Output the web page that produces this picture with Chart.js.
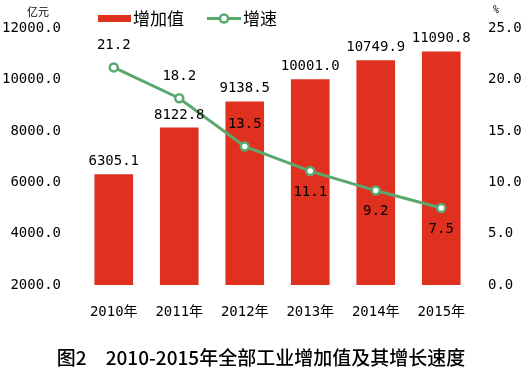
<!DOCTYPE html>
<html>
<head>
<meta charset="utf-8">
<script src="https://cdn.jsdelivr.net/npm/chart.js@4/dist/chart.umd.min.js"></script>
<style>
    html, body { margin: 0; padding: 0; background: #fff; }
    #wrap { width: 527px; height: 376px; }
</style>
</head>
<body>
<div id="wrap"><canvas id="chart" width="527" height="376"></canvas></div>
<script>
// data
const years = ['2010年', '2011年', '2012年', '2013年', '2014年', '2015年'];
const addedValue = [6305.1, 8122.8, 9138.5, 10001.0, 10749.9, 11090.8];   // 亿元
const growthRate = [21.2, 18.2, 13.5, 11.1, 9.2, 7.5];                    // %
const leftTicks = [2000, 4000, 6000, 8000, 10000, 12000];
const rightTicks = [0, 5, 10, 15, 20, 25];

// where each growth label sits relative to its point
const rateLabelSide = ['above', 'above', 'above', 'below', 'below', 'below'];

const RED = '#e0301f';
const GREEN = '#5aa86e';
const NUM_FONT = "'DejaVu Sans Mono', 'Noto Sans CJK SC', monospace";
const CJK_FONT = "'Noto Sans CJK SC', sans-serif";

// value labels, legend, units and caption
const decorPlugin = {
    id: 'decor',
    afterDatasetsDraw(chart) {
        const ctx = chart.ctx;
        ctx.save();
        ctx.fillStyle = '#000';
        ctx.font = '14px ' + NUM_FONT;
        ctx.textAlign = 'center';
        ctx.textBaseline = 'middle';

        chart.getDatasetMeta(1).data.forEach((bar, i) => {
            ctx.fillText(addedValue[i].toFixed(1), bar.x, bar.y - 13);
        });
        chart.getDatasetMeta(0).data.forEach((pt, i) => {
            const dy = rateLabelSide[i] === 'above' ? -22 : 21;
            ctx.fillText(growthRate[i].toFixed(1), pt.x, pt.y + dy);
        });
        ctx.restore();
    },
    afterDraw(chart) {
        const ctx = chart.ctx;
        ctx.save();
        ctx.textBaseline = 'middle';

        // legend
        ctx.fillStyle = RED;
        ctx.fillRect(98, 15, 33, 7);
        ctx.fillStyle = '#000';
        ctx.font = '17px ' + CJK_FONT;
        ctx.textAlign = 'left';
        ctx.fillText('增加值', 133, 19);

        ctx.strokeStyle = GREEN;
        ctx.lineWidth = 3;
        ctx.beginPath();
        ctx.moveTo(207, 18.5);
        ctx.lineTo(241, 18.5);
        ctx.stroke();
        ctx.beginPath();
        ctx.arc(224, 18.5, 4, 0, Math.PI * 2);
        ctx.fillStyle = '#fff';
        ctx.fill();
        ctx.lineWidth = 2.5;
        ctx.stroke();
        ctx.fillStyle = '#000';
        ctx.fillText('增速', 243, 19);

        // units
        ctx.font = '11px ' + CJK_FONT;
        ctx.textAlign = 'center';
        ctx.fillText('亿元', 38, 12);
        ctx.font = '10px ' + NUM_FONT;
        ctx.fillText('%', 496, 10);

        // caption
        ctx.font = '500 19px ' + CJK_FONT;
        ctx.fillText('图2　2010-2015年全部工业增加值及其增长速度', 261, 358);
        ctx.restore();
    }
};

new Chart(document.getElementById('chart'), {
    data: {
        labels: years,
        datasets: [
            {
                type: 'line',
                label: '增速',
                data: growthRate,
                yAxisID: 'y1',
                borderColor: GREEN,
                borderWidth: 3,
                pointRadius: 4,
                pointBorderWidth: 2.5,
                pointBackgroundColor: '#fff',
                pointBorderColor: GREEN,
                tension: 0,
                order: 0
            },
            {
                type: 'bar',
                label: '增加值',
                data: addedValue,
                yAxisID: 'y',
                backgroundColor: RED,
                barThickness: 38,
                order: 1
            }
        ]
    },
    options: {
        responsive: false,
        animation: false,
        layout: { padding: { top: 27, bottom: 51, left: 0, right: 0 } },
        plugins: {
            legend: { display: false },
            tooltip: { enabled: false },
            title: { display: false }
        },
        scales: {
            x: {
                grid: { display: false, drawTicks: false },
                border: { display: false },
                ticks: { color: '#000', font: { size: 14, family: NUM_FONT }, padding: 19 },
                afterFit(scale) { scale.height = 40; }
            },
            y: {
                position: 'left',
                min: 2000,
                max: 12000,
                grid: { display: false, drawTicks: false },
                border: { display: false },
                afterBuildTicks(scale) { scale.ticks = leftTicks.map(v => ({ value: v })); },
                ticks: {
                    color: '#000',
                    font: { size: 14, family: NUM_FONT },
                    padding: 20,
                    callback: v => v.toFixed(1)
                },
                afterFit(scale) { scale.width = 81; }
            },
            y1: {
                position: 'right',
                min: 0,
                max: 25,
                grid: { display: false, drawTicks: false },
                border: { display: false },
                afterBuildTicks(scale) { scale.ticks = rightTicks.map(v => ({ value: v })); },
                ticks: {
                    color: '#000',
                    font: { size: 14, family: NUM_FONT },
                    padding: 14,
                    callback: v => v.toFixed(1)
                },
                afterFit(scale) { scale.width = 53; }
            }
        }
    },
    plugins: [decorPlugin]
});
</script>
</body>
</html>
